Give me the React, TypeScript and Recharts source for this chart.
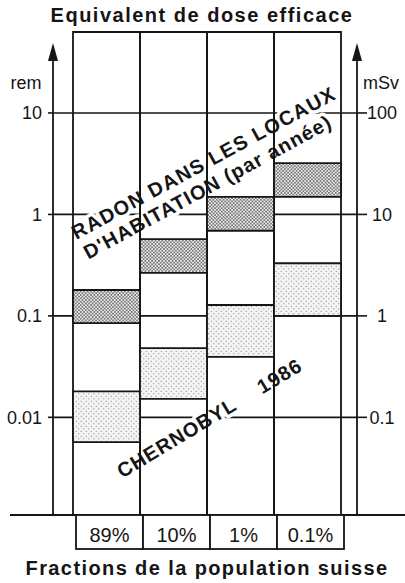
import React from 'react';
import { ComposedChart, Bar, XAxis, YAxis, CartesianGrid, Customized } from 'recharts';

// --- DATA ---
const categories = ['89%', '10%', '1%', '0.1%'];
const radonLow = [0.085, 0.265, 0.69, 1.49];
const radonHigh = [0.18, 0.57, 1.49, 3.2];
const chernobylLow = [0.0057, 0.0152, 0.0395, 0.1];
const chernobylHigh = [0.018, 0.048, 0.128, 0.33];
const remTicks = [0.01, 0.1, 1, 10];
const msvTicks = [0.1, 1, 10, 100];
const remDomain: [number, number] = [0.00109, 62.8];
const msvDomain: [number, number] = [remDomain[0] * 10, remDomain[1] * 10];

const data = categories.map((name, i) => ({
  name,
  frame: remDomain,
  frameMsv: msvDomain,
  radon: [radonLow[i], radonHigh[i]],
  chernobyl: [chernobylLow[i], chernobylHigh[i]],
}));

// --- LAYOUT ---
const W = 405;
const H = 583;
const LEFT_AXIS_W = 53;
const RIGHT_AXIS_W = 48;
const TOP = 32;
const X_AXIS_H = 68;
const PLOT_B = H - X_AXIS_H;
const PAD = { left: 20, right: 16 };
const COL_W = (W - LEFT_AXIS_W - RIGHT_AXIS_W - PAD.left - PAD.right) / categories.length;
const INK = '#151515';
const FONT = '"Liberation Sans", Arial, Helvetica, sans-serif';

const LeftTick = ({ x, y, payload }: any) => (
  <text x={x - 6} y={y} dy={6.5} textAnchor="end" fontSize={18} fontFamily={FONT} fill={INK}>
    {payload.value}
  </text>
);

const RightTick = ({ x, y, payload }: any) => (
  <text x={x + 15} y={y} dy={6.5} textAnchor="middle" fontSize={18} fontFamily={FONT} fill={INK}>
    {payload.value}
  </text>
);

// bottom table cell under each column
const TableTick = ({ x, payload }: any) => (
  <g>
    <rect x={x - COL_W / 2 + 3} y={PLOT_B} width={COL_W} height={34} fill="#fff" stroke={INK} strokeWidth={1.8} />
    <text x={x + 3} y={PLOT_B + 27} textAnchor="middle" fontSize={20} fontFamily={FONT} fill={INK}>
      {payload.value}
    </text>
  </g>
);

const halo = { stroke: '#fff', strokeWidth: 7, strokeLinejoin: 'round' as const, paintOrder: 'stroke' as const };

const Decorations = () => {
  const plotL = LEFT_AXIS_W;
  const plotR = W - RIGHT_AXIS_W;
  const arrow = (ax: number) => (
    <g>
      <line x1={ax} y1={58} x2={ax} y2={PLOT_B} stroke={INK} strokeWidth={1.8} />
      <polygon points={`${ax},43 ${ax - 5},61 ${ax + 5},61`} fill={INK} />
    </g>
  );
  return (
    <g>
      {arrow(plotL)}
      {arrow(plotR)}
      <line x1={10} y1={PLOT_B} x2={W} y2={PLOT_B} stroke={INK} strokeWidth={2} />
      <text x={26} y={89} textAnchor="middle" fontSize={18} fontFamily={FONT} fill={INK}>rem</text>
      <text x={381} y={89} textAnchor="middle" fontSize={18} fontFamily={FONT} fill={INK}>mSv</text>
      <text x={202} y={22} textAnchor="middle" fontSize={20} fontWeight="bold" letterSpacing={1.5} fontFamily={FONT} fill={INK}>
        Equivalent de dose efficace
      </text>
      <text x={207} y={575} textAnchor="middle" fontSize={20} fontWeight="bold" letterSpacing={1.4} fontFamily={FONT} fill={INK}>
        Fractions de la population suisse
      </text>
      <g transform="translate(207,169) rotate(-28.5)" fontFamily={FONT} fontWeight="bold" fill={INK}>
        <text x={0} y={0} textAnchor="middle" fontSize={20} letterSpacing={1.3} {...halo}>
          RADON DANS LES LOCAUX
        </text>
        <text x={-8} y={23} textAnchor="middle" fontSize={20} letterSpacing={1.1} {...halo}>
          D'HABITATION (par année)
        </text>
      </g>
      <g transform="translate(213,424) rotate(-31)" fontFamily={FONT} fontWeight="bold" fill={INK}>
        <text x={-106} y={0} textAnchor="start" fontSize={20} letterSpacing={1} {...halo}>
          CHERNOBYL
        </text>
        <text x={106} y={0} textAnchor="end" fontSize={20} letterSpacing={1} {...halo}>
          1986
        </text>
      </g>
    </g>
  );
};

const App: React.FC = () => (
  <div style={{ position: 'absolute', left: 0, top: 0, width: W, height: H, background: '#fff' }}>
    <svg width={0} height={0} style={{ position: 'absolute' }}>
      <defs>
        <pattern id="radonDots" patternUnits="userSpaceOnUse" width={3.4} height={3.4}>
          <rect width={3.4} height={3.4} fill="#ececec" />
          <circle cx={0.85} cy={0.85} r={0.75} fill="#3a3a3a" />
          <circle cx={2.55} cy={2.55} r={0.75} fill="#3a3a3a" />
        </pattern>
        <pattern id="chernobylDots" patternUnits="userSpaceOnUse" width={5} height={5}>
          <rect width={5} height={5} fill="#f3f3f3" />
          <circle cx={1.25} cy={1.25} r={0.6} fill="#777" />
          <circle cx={3.75} cy={3.75} r={0.6} fill="#777" />
        </pattern>
      </defs>
    </svg>
    <ComposedChart
      width={W}
      height={H}
      data={data}
      margin={{ top: TOP, right: 0, bottom: 0, left: 0 }}
      barCategoryGap={0}
      barGap={0}
    >
      <CartesianGrid xAxisId="frame" yAxisId="rem" vertical={false} stroke={INK} strokeWidth={1.6} horizontalValues={remTicks} />
      <XAxis
        xAxisId="frame"
        dataKey="name"
        height={X_AXIS_H}
        padding={PAD}
        axisLine={false}
        tickLine={false}
        tickSize={0}
        tickMargin={0}
        tick={<TableTick />}
        interval={0}
      />
      <XAxis xAxisId="radon" dataKey="name" hide padding={PAD} />
      <XAxis xAxisId="cher" dataKey="name" hide padding={PAD} />
      <XAxis xAxisId="msvFrame" dataKey="name" hide padding={PAD} />
      <YAxis
        yAxisId="rem"
        type="number"
        scale="log"
        domain={remDomain}
        ticks={remTicks}
        width={LEFT_AXIS_W}
        axisLine={false}
        tickSize={5}
        tickMargin={0}
        tickLine={{ stroke: INK, strokeWidth: 1.6 }}
        tick={<LeftTick />}
        interval={0}
      />
      <YAxis
        yAxisId="msv"
        orientation="right"
        type="number"
        scale="log"
        domain={msvDomain}
        ticks={msvTicks}
        width={RIGHT_AXIS_W}
        axisLine={false}
        tickSize={10}
        tickMargin={0}
        tickLine={{ stroke: INK, strokeWidth: 1.6 }}
        tick={<RightTick />}
        interval={0}
      />
      <Bar xAxisId="msvFrame" yAxisId="msv" dataKey="frameMsv" fill="none" stroke="none" isAnimationActive={false} />
      <Bar xAxisId="frame" yAxisId="rem" dataKey="frame" fill="none" stroke={INK} strokeWidth={1.8} isAnimationActive={false} />
      <Bar xAxisId="radon" yAxisId="rem" dataKey="radon" fill="url(#radonDots)" stroke={INK} strokeWidth={1.8} isAnimationActive={false} />
      <Bar xAxisId="cher" yAxisId="rem" dataKey="chernobyl" fill="url(#chernobylDots)" stroke={INK} strokeWidth={1.8} isAnimationActive={false} />
      <Customized component={Decorations} />
    </ComposedChart>
  </div>
);

export default App;
